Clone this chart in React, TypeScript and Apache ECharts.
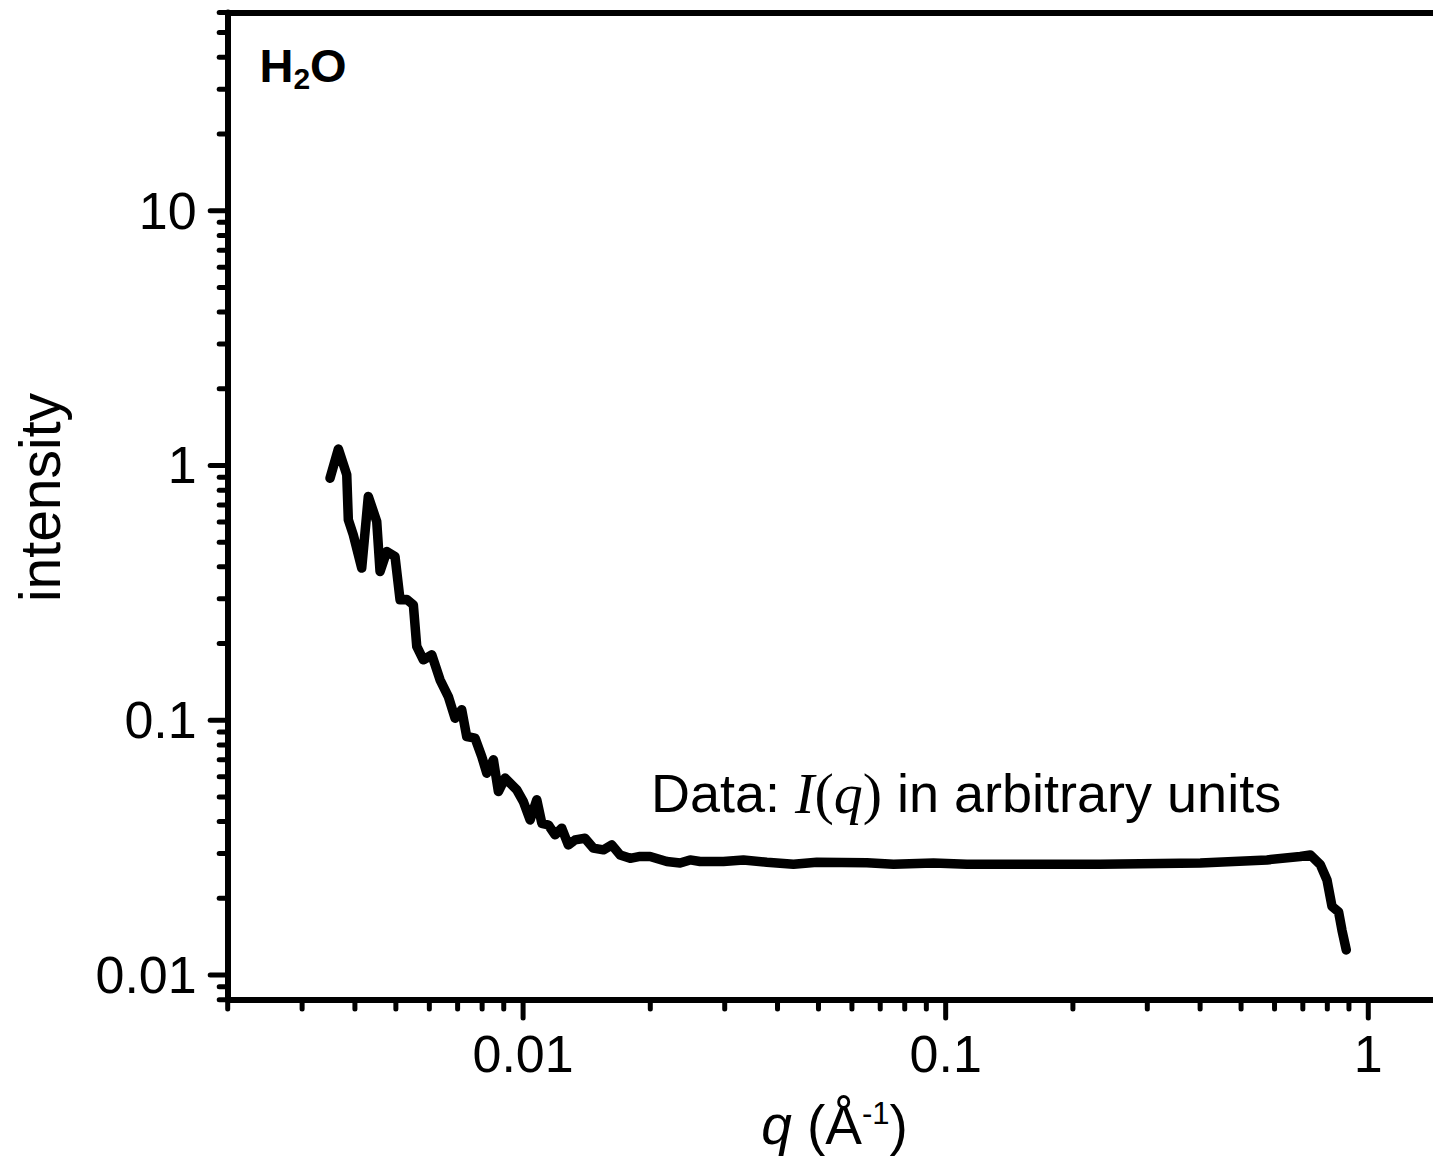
import React, { useEffect, useRef } from "react";
import * as echarts from "echarts";

// ---- data (q in 1/Å, intensity in arbitrary units) ----
const qValues = [
  0.003493, 0.003655, 0.003826, 0.003859, 0.003965, 0.004151, 0.004303, 0.004505, 0.004587, 0.004758,
  0.004977, 0.005115, 0.005305, 0.0055, 0.005602, 0.005808, 0.00608, 0.00636, 0.006654, 0.006902,
  0.007159, 0.007356, 0.007697, 0.007985, 0.008205, 0.008507, 0.008741, 0.009066, 0.009663, 0.010016,
  0.01039, 0.010775, 0.011075, 0.01148, 0.011903, 0.012346, 0.012797, 0.013273, 0.014015, 0.014665,
  0.015497, 0.016219, 0.01697, 0.017924, 0.018917, 0.019977, 0.021883, 0.023522, 0.024842, 0.026233,
  0.029788, 0.03322, 0.03774, 0.043631, 0.049563, 0.065104, 0.075249, 0.093558, 0.11224, 0.16136,
  0.23213, 0.40046, 0.57571, 0.69024, 0.72907, 0.76991, 0.79853, 0.82057, 0.85059, 0.86638, 0.88693,
];
const intensityValues = [
  0.892, 1.16, 0.919, 0.612, 0.534, 0.3955, 0.7557, 0.6028, 0.3835, 0.4597,
  0.4392, 0.297, 0.298, 0.2838, 0.1948, 0.1726, 0.1806, 0.1441, 0.1239, 0.1019,
  0.1099, 0.0863, 0.0851, 0.072, 0.062, 0.0699, 0.0525, 0.0593, 0.0533, 0.0479,
  0.0406, 0.0487, 0.0394, 0.0388, 0.0355, 0.0377, 0.0324, 0.0339, 0.0344, 0.0315,
  0.031, 0.0324, 0.0296, 0.0287, 0.0292, 0.0292, 0.0279, 0.0275, 0.0283, 0.0279,
  0.0279, 0.0283, 0.0277, 0.0272, 0.0277, 0.0276, 0.0272, 0.0275, 0.0272, 0.0272,
  0.0272, 0.0275, 0.0283, 0.0292, 0.0296, 0.0271, 0.0236, 0.0186, 0.0177, 0.015, 0.01255,
];

// ---- axes ----
const xMajorTicks = [0.01, 0.1, 1];
const xTickLabels = ["0.01", "0.1", "1"];
const xMinorTicks = [
  0.002, 0.003, 0.004, 0.005, 0.006, 0.007, 0.008, 0.009,
  0.02, 0.03, 0.04, 0.05, 0.06, 0.07, 0.08, 0.09,
  0.2, 0.3, 0.4, 0.5, 0.6, 0.7, 0.8, 0.9, 2,
];
const yMajorTicks = [0.01, 0.1, 1, 10];
const yTickLabels = ["0.01", "0.1", "1", "10"];
const yMinorTicks = [
  0.008, 0.009,
  0.02, 0.03, 0.04, 0.05, 0.06, 0.07, 0.08, 0.09,
  0.2, 0.3, 0.4, 0.5, 0.6, 0.7, 0.8, 0.9,
  2, 3, 4, 5, 6, 7, 8, 9,
  20, 30, 40, 50, 60,
];
const X_MIN = 0.002;
const X_MAX = 2;
const Y_MIN = 0.008;
const Y_MAX = 60;

const SANS = '"Liberation Sans", Arial, sans-serif';
const SERIF = '"Liberation Serif", "Times New Roman", serif';

const labelFormatter = (values: number[], labels: string[]) => (v: number) => {
  for (let i = 0; i < values.length; i++) {
    if (Math.abs(Math.log10(v) - Math.log10(values[i])) < 1e-6) return labels[i];
  }
  return "";
};

const plainText = (text: string, x: number, y: number, font: string, align = "left", extra: any = {}) => ({
  type: "text",
  x,
  y,
  ...extra,
  style: {
    text,
    font,
    fill: "#000",
    align,
    textAlign: align,
    verticalAlign: "middle",
    textVerticalAlign: "middle",
  },
});

export default function App() {
  const ref = useRef<HTMLDivElement>(null);

  useEffect(() => {
    if (!ref.current) return;
    const chart = echarts.init(ref.current, undefined, { renderer: "svg" });

    const lineData = qValues.map((q, i) => [q, intensityValues[i]]);
    const xTickData = [
      ...xMajorTicks.map((v) => [v, Y_MIN, 1]),
      ...xMinorTicks.map((v) => [v, Y_MIN, 0]),
    ];
    const yTickData = [
      ...yMajorTicks.map((v) => [X_MIN, v, 1]),
      ...yMinorTicks.map((v) => [X_MIN, v, 0]),
    ];
    const tickStyle = { stroke: "#000", lineWidth: 5, lineCap: "round" };

    const option: any = {
      animation: false,
      backgroundColor: "#ffffff",
      grid: {
        left: 227.7,
        right: -62.5,
        top: 12.45,
        bottom: 158.3,
        containLabel: false,
        outerBoundsMode: "none",
      },
      xAxis: [
        {
          type: "log",
          logBase: 10,
          min: X_MIN,
          max: X_MAX,
          position: "bottom",
          axisLine: { show: true, onZero: false, lineStyle: { color: "#000", width: 6 } },
          axisTick: { show: false },
          splitLine: { show: false },
          axisLabel: {
            show: true,
            margin: 28,
            color: "#000",
            fontSize: 52,
            lineHeight: 52,
            fontFamily: SANS,
            formatter: labelFormatter(xMajorTicks, xTickLabels),
          },
        },
        {
          type: "log",
          logBase: 10,
          min: X_MIN,
          max: X_MAX,
          position: "top",
          axisLine: { show: true, onZero: false, lineStyle: { color: "#000", width: 6 } },
          axisTick: { show: false },
          splitLine: { show: false },
          axisLabel: { show: false },
        },
      ],
      yAxis: {
        type: "log",
        logBase: 10,
        min: Y_MIN,
        max: Y_MAX,
        axisLine: { show: true, onZero: false, lineStyle: { color: "#000", width: 6 } },
        axisTick: { show: false },
        splitLine: { show: false },
        axisLabel: {
          show: true,
          margin: 31,
          color: "#000",
          fontSize: 52,
          lineHeight: 52,
          fontFamily: SANS,
          padding: [0, 0, 7, 0],
          formatter: labelFormatter(yMajorTicks, yTickLabels),
        },
      },
      series: [
        {
          type: "line",
          data: lineData,
          showSymbol: false,
          symbol: "none",
          clip: false,
          z: 4,
          lineStyle: { color: "#000", width: 9.5, cap: "round", join: "round" },
        },
        {
          type: "custom",
          clip: false,
          silent: true,
          z: 5,
          data: xTickData,
          renderItem: (_p: any, api: any) => {
            const pt = api.coord([api.value(0), api.value(1)]);
            const len = api.value(2) ? 18.3 : 9.3;
            return {
              type: "line",
              shape: { x1: pt[0], y1: pt[1], x2: pt[0], y2: pt[1] + len },
              style: tickStyle,
            };
          },
        },
        {
          type: "custom",
          clip: false,
          silent: true,
          z: 5,
          data: yTickData,
          renderItem: (_p: any, api: any) => {
            const pt = api.coord([api.value(0), api.value(1)]);
            const len = api.value(2) ? 17.5 : 8.5;
            return {
              type: "line",
              shape: { x1: pt[0], y1: pt[1], x2: pt[0] - len, y2: pt[1] },
              style: tickStyle,
            };
          },
        },
      ],
      graphic: [
        plainText("H", 259.6, 65.7, `bold 47px ${SANS}`),
        plainText("2", 293.6, 78, `bold 30px ${SANS}`),
        plainText("O", 310, 65.7, `bold 47px ${SANS}`),
        plainText("intensity", 40.2, 497.5, `57px ${SANS}`, "center", { rotation: Math.PI / 2 }),
        {
          type: "text",
          x: 834.5,
          y: 1125,
          style: {
            text: "{i|q}{n| (Å}{s|-1}{n|)}",
            align: "center",
            textAlign: "center",
            verticalAlign: "middle",
            textVerticalAlign: "middle",
            rich: {
              i: { fontSize: 55, fontStyle: "italic", fontFamily: SANS, lineHeight: 55, fill: "#000" },
              n: { fontSize: 55, fontFamily: SANS, lineHeight: 55, fill: "#000" },
              s: { fontSize: 31, fontFamily: SANS, lineHeight: 32, verticalAlign: "top", fill: "#000" },
            },
          },
        },
        {
          type: "text",
          x: 651,
          y: 793.3,
          style: {
            text: "{a|Data: }{m|I}{p|(}{m|q}{p|)}{a| in arbitrary units}",
            align: "left",
            textAlign: "left",
            verticalAlign: "middle",
            textVerticalAlign: "middle",
            rich: {
              a: { fontSize: 54, fontFamily: SANS, lineHeight: 58, fill: "#000" },
              m: { fontSize: 58, fontFamily: SERIF, fontStyle: "italic", lineHeight: 58, fill: "#000" },
              p: { fontSize: 58, fontFamily: SERIF, lineHeight: 58, fill: "#000" },
            },
          },
        },
      ],
    };

    chart.setOption(option);
    return () => {
      chart.dispose();
    };
  }, []);

  return (
    <div
      ref={ref}
      style={{ position: "fixed", left: 0, top: 0, width: 1433, height: 1158, background: "#fff" }}
    />
  );
}
